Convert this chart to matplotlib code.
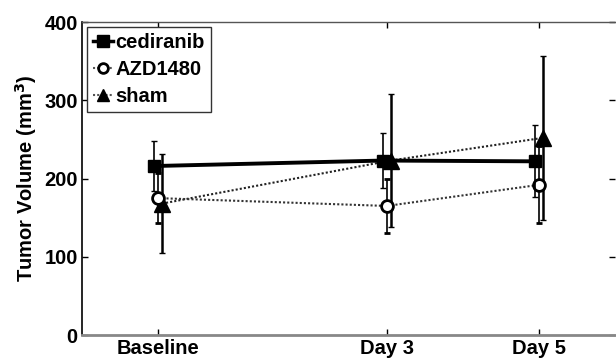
import matplotlib
matplotlib.use('Agg')
import matplotlib.pyplot as plt
from matplotlib.lines import Line2D
import numpy as np

plt.rcParams['font.family'] = ['Liberation Sans', 'DejaVu Sans']
plt.rcParams['font.weight'] = 'bold'
plt.rcParams['mathtext.default'] = 'bf'
FONT_SIZE = 14.5

# --- data ---
days = [0, 3, 5]
tick_labels = ['Baseline', 'Day 3', 'Day 5']

cediranib = [216, 223, 222]
cediranib_err = [32, 35, 46]

azd1480 = [175, 165, 192]
azd1480_err = [32, 35, 49]

sham = [168, 223, 252]
sham_err = [63, 85, 105]

fig = plt.figure(figsize=(6.16, 3.58), dpi=100)
ax = fig.add_axes([0.133, 0.064, 0.866, 0.8745])

x = np.array(days, dtype=float)
dot = (0, (1, 1))

ax.errorbar(x + 0.05, sham, yerr=sham_err, color='#222222', lw=1.5, ls=dot,
            marker='^', ms=11, mfc='black', mec='black', ecolor='black',
            elinewidth=1.8, capsize=2, capthick=1, zorder=3)
ax.errorbar(x, azd1480, yerr=azd1480_err, color='#333333', lw=1.5, ls=dot,
            marker='o', ms=8.5, mfc='white', mec='black', mew=2, ecolor='black',
            elinewidth=1.2, capsize=2, capthick=1, zorder=4)
ax.errorbar(x - 0.05, cediranib, yerr=cediranib_err, color='black', lw=2.8,
            marker='s', ms=9, mfc='black', mec='black', ecolor='black',
            elinewidth=1.2, capsize=2, capthick=1, zorder=5)

ax.set_xlim(-1, 6)
ax.set_ylim(0, 400)
ax.set_xticks(days)
ax.set_xticklabels(tick_labels, fontsize=FONT_SIZE, fontweight='bold')
ax.set_yticks([0, 100, 200, 300, 400])
ax.tick_params(axis='y', labelsize=FONT_SIZE, pad=3)
ax.tick_params(direction='in', top=True, right=True, length=4, width=1)
ax.tick_params(axis='x', pad=3)
ax.set_ylabel('Tumor Volume (mm$^{3}$)', fontsize=FONT_SIZE, fontweight='bold',
              labelpad=4)

ax.spines['right'].set_visible(False)
ax.spines['top'].set_color('#555555')
ax.spines['top'].set_linewidth(1)
ax.spines['bottom'].set_color('#888888')
ax.spines['bottom'].set_linewidth(2)
ax.spines['left'].set_color('black')
ax.spines['left'].set_linewidth(1.2)

handles = [
    Line2D([], [], color='black', lw=2.5, marker='s', ms=8, mfc='black', mec='black'),
    Line2D([], [], color='#555555', lw=1.5, ls=dot, marker='o', ms=7, mfc='white',
           mec='black', mew=2),
    Line2D([], [], color='#555555', lw=1.5, ls=dot, marker='^', ms=9, mfc='black',
           mec='black'),
]
leg = ax.legend(handles, ['cediranib', 'AZD1480', 'sham'],
                loc='upper left', fontsize=FONT_SIZE, handlelength=1.0,
                handletextpad=0.1, borderpad=0.3, labelspacing=0.4,
                fancybox=False, framealpha=1, edgecolor='#333333',
                borderaxespad=0.25)
leg.get_frame().set_linewidth(1)

fig.savefig('out.png', dpi=100)
